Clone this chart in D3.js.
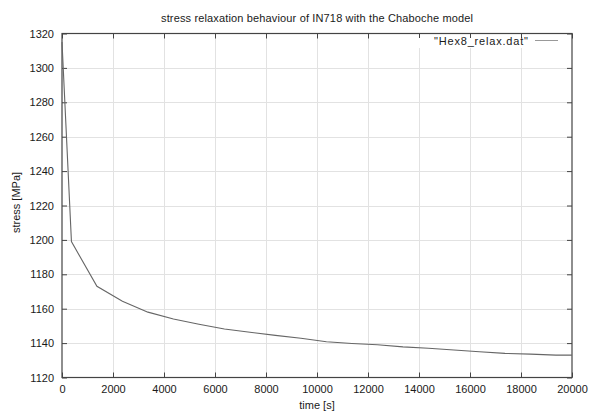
<!DOCTYPE html>
<html>
<head>
<meta charset="utf-8">
<script src="https://cdn.jsdelivr.net/npm/d3@7"></script>
<style>
  html, body { margin: 0; padding: 0; background: #fff; }
  svg text { font-family: "Liberation Sans", Arial, Helvetica, sans-serif; fill: #1a1a1a; }
</style>
</head>
<body>
<svg id="chart" width="589" height="414"></svg>
<script>
// relaxation curve: time [s] vs stress [MPa]
const timeS = [0, 370, 1370, 2370, 3370, 4370, 5370, 6370, 7370, 8370, 9370,
  10370, 11370, 12370, 13370, 14370, 15370, 16370, 17370, 18370, 19370, 20000];
const stressMPa = [1315, 1199, 1173, 1164.3, 1158, 1154, 1151, 1148.2, 1146.3, 1144.5, 1142.8,
  1140.8, 1139.8, 1139.0, 1137.8, 1137.0, 1136.0, 1135.0, 1134.0, 1133.6, 1133.0, 1133.0];

const xTicks = [0, 2000, 4000, 6000, 8000, 10000, 12000, 14000, 16000, 18000, 20000];
const yTicks = [1120, 1140, 1160, 1180, 1200, 1220, 1240, 1260, 1280, 1300, 1320];

const titleText = "stress relaxation behaviour of IN718 with the Chaboche model";
const xLabel = "time [s]";
const yLabel = "stress [MPa]";
const seriesName = "\"Hex8_relax.dat\"";

const svg = d3.select("#chart");
const plotL = 62, plotR = 572, plotT = 33.5, plotB = 377.5;

const x = d3.scaleLinear().domain([0, 20000]).range([plotL, plotR]);
const y = d3.scaleLinear().domain([1120, 1320]).range([plotB, plotT]);

// grid
const grid = svg.append("g").attr("stroke", "#e2e2e2").attr("stroke-width", 1);
grid.selectAll(".gx").data(xTicks.slice(1, -1)).join("line")
  .attr("x1", d => Math.round(x(d)) + 0.5).attr("x2", d => Math.round(x(d)) + 0.5)
  .attr("y1", plotT).attr("y2", plotB);
grid.selectAll(".gy").data(yTicks.slice(1, -1)).join("line")
  .attr("y1", d => Math.round(y(d)) + 0.5).attr("y2", d => Math.round(y(d)) + 0.5)
  .attr("x1", plotL).attr("x2", plotR);

// axes with inward ticks, mirrored on opposite sides
const tickLen = 5;
const axBottom = d3.axisBottom(x).tickValues(xTicks).tickSize(-tickLen).tickPadding(8).tickFormat(d3.format("d"));
const axTop = d3.axisTop(x).tickValues(xTicks).tickSize(-tickLen).tickFormat("");
const axLeft = d3.axisLeft(y).tickValues(yTicks).tickSize(-tickLen).tickPadding(8).tickFormat(d3.format("d"));
const axRight = d3.axisRight(y).tickValues(yTicks).tickSize(-tickLen).tickFormat("");

function styleAxis(g) {
  g.select(".domain").remove();
  g.selectAll(".tick line").attr("stroke", "#444");
  g.selectAll(".tick text").attr("font-size", 11).attr("fill", "#1a1a1a")
    .style("font-family", "'Liberation Sans', Arial, sans-serif");
}
svg.append("g").attr("transform", `translate(0,${plotB})`).call(axBottom).call(styleAxis);
svg.append("g").attr("transform", `translate(0,${plotT})`).call(axTop).call(styleAxis);
svg.append("g").attr("transform", `translate(${plotL},0)`).call(axLeft).call(styleAxis);
svg.append("g").attr("transform", `translate(${plotR},0)`).call(axRight).call(styleAxis);

// legend background keeps grid lines off the key
svg.append("rect").attr("x", 414).attr("y", 38).attr("width", 154).attr("height", 10).attr("fill", "#fff");

// plot frame
svg.append("rect").attr("x", plotL).attr("y", plotT).attr("width", plotR - plotL).attr("height", plotB - plotT)
  .attr("fill", "none").attr("stroke", "#444").attr("stroke-width", 1.2);

// data line
const line = d3.line().x((d, i) => x(timeS[i])).y(d => y(d));
svg.append("path").datum(stressMPa).attr("d", line)
  .attr("fill", "none").attr("stroke", "#666").attr("stroke-width", 1.1);

// legend
svg.append("text").attr("x", 528).attr("y", 44.5).attr("text-anchor", "end")
  .attr("font-size", 11).attr("textLength", 94).attr("lengthAdjust", "spacing").text(seriesName);
svg.append("line").attr("x1", 535).attr("x2", 558).attr("y1", 40.5).attr("y2", 40.5)
  .attr("stroke", "#999").attr("stroke-width", 1);

// titles
svg.append("text").attr("x", (plotL + plotR) / 2).attr("y", 21.5).attr("text-anchor", "middle")
  .attr("font-size", 11).attr("textLength", 312).attr("lengthAdjust", "spacing").text(titleText);
svg.append("text").attr("x", (plotL + plotR) / 2).attr("y", 408.5).attr("text-anchor", "middle")
  .attr("font-size", 11).text(xLabel);
svg.append("text").attr("transform", `translate(20,${(plotT + plotB) / 2 - 3}) rotate(-90)`)
  .attr("text-anchor", "middle").attr("font-size", 11).text(yLabel);
</script>
</body>
</html>
